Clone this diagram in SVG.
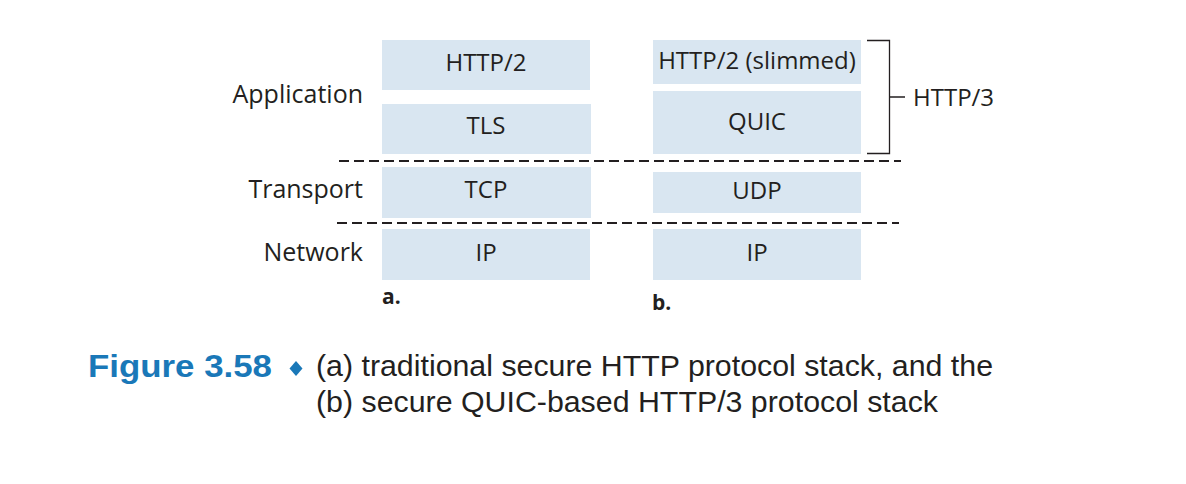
<svg xmlns="http://www.w3.org/2000/svg" width="1186" height="484" viewBox="0 0 1186 484">
<style>
.box{fill:#d9e6f1;}
.t{font-family:"Open Sans","Liberation Sans",sans-serif;font-size:24px;fill:#231f20;}
.s{font-size:25px;}
.c{text-anchor:middle;}
.r{text-anchor:end;}
.lbl{font-family:"Open Sans","Liberation Sans",sans-serif;font-size:21px;font-weight:bold;fill:#231f20;}
.dash{stroke:#231f20;stroke-width:2.2;stroke-dasharray:10 5;fill:none;}
.cap{font-family:"Liberation Sans",sans-serif;font-size:30px;fill:#231f20;}
.fig{font-family:"Liberation Sans",sans-serif;font-size:31px;font-weight:bold;fill:#1a78b8;}
</style>
<rect width="1186" height="484" fill="#ffffff"/>
<g id="layer-labels">
<text class="t s r" x="363" y="103">Application</text>
<text class="t s r" x="363" y="198">Transport</text>
<text class="t s r" x="363" y="261">Network</text>
</g>
<g id="a-http2"><rect class="box" x="382" y="40" width="208" height="50"/><text class="t c" x="486" y="71">HTTP/2</text></g>
<g id="a-tls"><rect class="box" x="382" y="104" width="209" height="50"/><text class="t c" x="486" y="134">TLS</text></g>
<g id="a-tcp"><rect class="box" x="382" y="167" width="209" height="51"/><text class="t c" x="486" y="198">TCP</text></g>
<g id="a-ip"><rect class="box" x="382" y="229" width="208" height="51"/><text class="t c" x="486" y="261">IP</text></g>
<text class="lbl" x="382" y="304">a.</text>
<g id="b-http2"><rect class="box" x="653" y="40" width="208" height="44"/><text class="t c" x="757" y="69">HTTP/2 (slimmed)</text></g>
<g id="b-quic"><rect class="box" x="653" y="91" width="208" height="63"/><text class="t c" x="757" y="130">QUIC</text></g>
<g id="b-udp"><rect class="box" x="653" y="172" width="208" height="41"/><text class="t c" x="757" y="199">UDP</text></g>
<g id="b-ip"><rect class="box" x="653" y="229" width="208" height="51"/><text class="t c" x="757" y="261">IP</text></g>
<text class="lbl" x="652" y="310">b.</text>
<g id="http3-bracket">
<path d="M867 40.5 H889.5 V153.5 H867 M889.5 97 H905" fill="none" stroke="#231f20" stroke-width="1.3"/>
<text class="t" x="913" y="106">HTTP/3</text>
</g>
<g id="connectors">
<line class="dash" x1="339" y1="161" x2="901" y2="161"/>
<line class="dash" x1="337" y1="223" x2="899" y2="223"/>
</g>
<g id="caption">
<text class="fig" x="88" y="377" textLength="184" lengthAdjust="spacingAndGlyphs">Figure 3.58</text>
<path d="M296 361 L302.5 368.5 L296 376 L289.5 368.5 Z" fill="#1a78b8"/>
<text class="cap" x="316" y="376" textLength="677" lengthAdjust="spacingAndGlyphs">(a) traditional secure HTTP protocol stack, and the</text>
<text class="cap" x="316" y="412" textLength="622" lengthAdjust="spacingAndGlyphs">(b) secure QUIC-based HTTP/3 protocol stack</text>
</g>
</svg>
